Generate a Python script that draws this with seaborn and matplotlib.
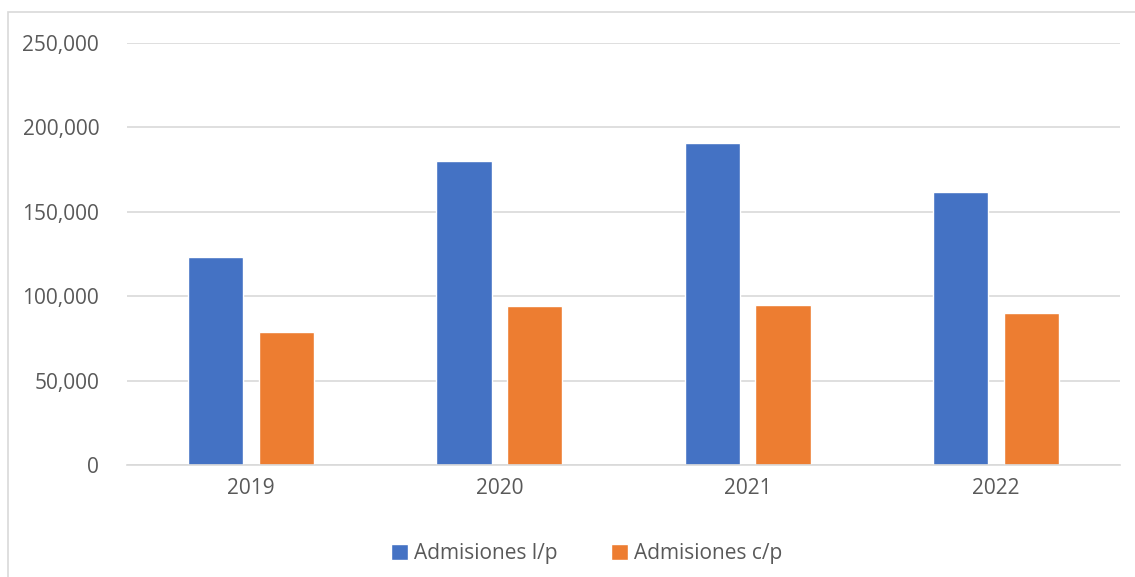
import pandas as pd
import seaborn as sns
import matplotlib.pyplot as plt
from matplotlib.patches import Rectangle
from matplotlib.ticker import FuncFormatter

years = ["2019", "2020", "2021", "2022"]
largo_plazo = [123000, 180100, 190550, 161600]
corto_plazo = [78600, 94300, 94900, 89800]
series_names = ["Admisiones l/p", "Admisiones c/p"]
colors = ["#4472C4", "#ED7D31"]

df = pd.DataFrame({
    "year": years * 2,
    "value": largo_plazo + corto_plazo,
    "serie": [series_names[0]] * 4 + [series_names[1]] * 4,
})

sns.set_theme(style="white")
plt.rcParams["font.family"] = ["Open Sans", "DejaVu Sans"]
text_color = "#595959"

fig = plt.figure(figsize=(11.35, 5.77), dpi=100)
ax = fig.add_axes([127 / 1135, 1 - 465 / 577, 993 / 1135, 422 / 577])

# chart frame
fig.patches.append(Rectangle((8 / 1135, -0.1), 1.2, 1.1 - 12 / 577, transform=fig.transFigure,
                             fill=False, edgecolor="#D9D9D9", linewidth=1.2))

sns.barplot(data=df, x="year", y="value", hue="serie", palette=colors,
            saturation=1, width=0.57, gap=0.22, ax=ax, legend=True)

ax.set_ylim(0, 250000)
ax.set_yticks(range(0, 250001, 50000))
ax.yaxis.set_major_formatter(FuncFormatter(lambda v, p: f"{int(v):,}"))
ax.grid(axis="y", color="#D9D9D9", linewidth=1.2)
ax.set_axisbelow(True)
for s in ["top", "right", "left"]:
    ax.spines[s].set_visible(False)
ax.spines["bottom"].set_color("#D9D9D9")
ax.spines["bottom"].set_linewidth(1.2)
ax.set_xlabel("")
ax.set_ylabel("")
ax.tick_params(axis="both", length=0, labelsize=15, labelcolor=text_color)
ax.tick_params(axis="y", pad=20)
ax.tick_params(axis="x", pad=9)

handles, labels = ax.get_legend_handles_labels()
ax.legend(handles, labels, loc="center", bbox_to_anchor=(0.463, -0.21), ncol=2,
          frameon=False, fontsize=15, labelcolor=text_color, handlelength=0.8,
          handleheight=0.8, handletextpad=0.3, columnspacing=2.6)

fig.savefig("out.png", dpi=100)
